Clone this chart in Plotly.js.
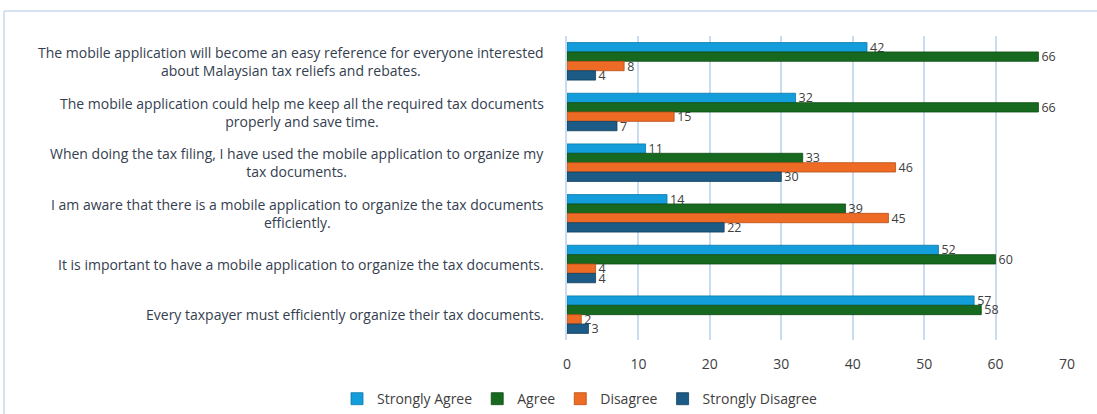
<!DOCTYPE html>
<html>
<head>
<meta charset="utf-8">
<script src="https://cdn.plot.ly/plotly-3.0.1.min.js"></script>
<style>
  html, body { margin: 0; padding: 0; background: #ffffff; }
  #chart { width: 1097px; height: 414px; }
</style>
</head>
<body>
<div id="chart"></div>
<script>
const categories = [
  "The mobile application will become an easy reference for everyone interested<br>about Malaysian tax reliefs and rebates.",
  "The mobile application could help me keep all the required tax documents<br>properly and save time.",
  "When doing the tax filing, I have used the mobile application to organize my<br>tax documents.",
  "I am aware that there is a mobile application to organize the tax documents<br>efficiently.",
  "It is important to have a mobile application to organize the tax documents.",
  "Every taxpayer must efficiently organize their tax documents."
];
const seriesNames = ["Strongly Agree", "Agree", "Disagree", "Strongly Disagree"];
const stronglyAgree = [42, 32, 11, 14, 52, 57];
const agree = [66, 66, 33, 39, 60, 58];
const disagree = [8, 15, 46, 45, 4, 2];
const stronglyDisagree = [4, 7, 30, 22, 4, 3];
const xTicks = [0, 10, 20, 30, 40, 50, 60, 70];

const colors = ["#139ddb", "#17691f", "#ee6b25", "#1c5b85"];
const edge = ["#0b78aa", "#0f4d15", "#b94e15", "#123f5e"];
const seriesValues = [stronglyAgree, agree, disagree, stronglyDisagree];
const FONT = "'Open Sans', Lato, sans-serif";

const traces = seriesValues.map((vals, i) => ({
  type: "bar",
  orientation: "h",
  name: seriesNames[i],
  x: vals,
  y: categories,
  text: vals.map(String),
  textposition: "outside",
  constraintext: "none",
  cliponaxis: false,
  textfont: { family: FONT, size: 12.5, color: "#404040" },
  marker: { color: colors[i], line: { color: edge[i], width: 0.8 } },
  hoverinfo: "x+name"
}));

const annotations = categories.map(c => ({
  xref: "paper", yref: "y",
  x: -0.042, y: c,
  xanchor: "right", yanchor: "middle",
  align: "center",
  showarrow: false,
  text: c,
  font: { family: FONT, size: 14, color: "#34404f" }
}));

const layout = {
  width: 1097, height: 414,
  margin: { l: 567, r: 30, t: 36, b: 74, autoexpand: false },
  paper_bgcolor: "#ffffff",
  plot_bgcolor: "#ffffff",
  barmode: "group",
  bargap: 0.26,
  bargroupgap: 0,
  showlegend: true,
  legend: {
    orientation: "h",
    x: -0.46, xanchor: "left",
    yref: "container",
    y: 0.036, yanchor: "middle",
    traceorder: "normal",
    font: { family: FONT, size: 14, color: "#404040" },
    itemwidth: 30
  },
  xaxis: {
    range: [0, 70],
    tickvals: xTicks,
    ticktext: xTicks.map(String),
    showgrid: true,
    gridcolor: "#c9dcf0",
    gridwidth: 1.5,
    zeroline: false,
    showline: false,
    ticks: "",
    ticklabelstandoff: 14,
    tickfont: { family: FONT, size: 14, color: "#404040" },
    automargin: false,
    fixedrange: true
  },
  yaxis: {
    type: "category",
    categoryorder: "array",
    categoryarray: categories,
    autorange: "reversed",
    showticklabels: false,
    showgrid: false,
    zeroline: false,
    showline: true,
    linecolor: "#c9dcf0",
    linewidth: 1.5,
    ticks: "",
    automargin: false,
    fixedrange: true
  },
  annotations: annotations,
  shapes: [
    { type: "line", xref: "paper", yref: "paper", x0: -1.126, x1: 1.07, y0: 1.082, y1: 1.082,
      line: { color: "#c6d8ee", width: 1.5 } },
    { type: "line", xref: "paper", yref: "paper", x0: -1.126, x1: -1.126, y0: 1.082, y1: -0.3,
      line: { color: "#c6d8ee", width: 1.5 } }
  ]
};

Plotly.newPlot("chart", traces, layout, { displayModeBar: false, responsive: false });
</script>
</body>
</html>
